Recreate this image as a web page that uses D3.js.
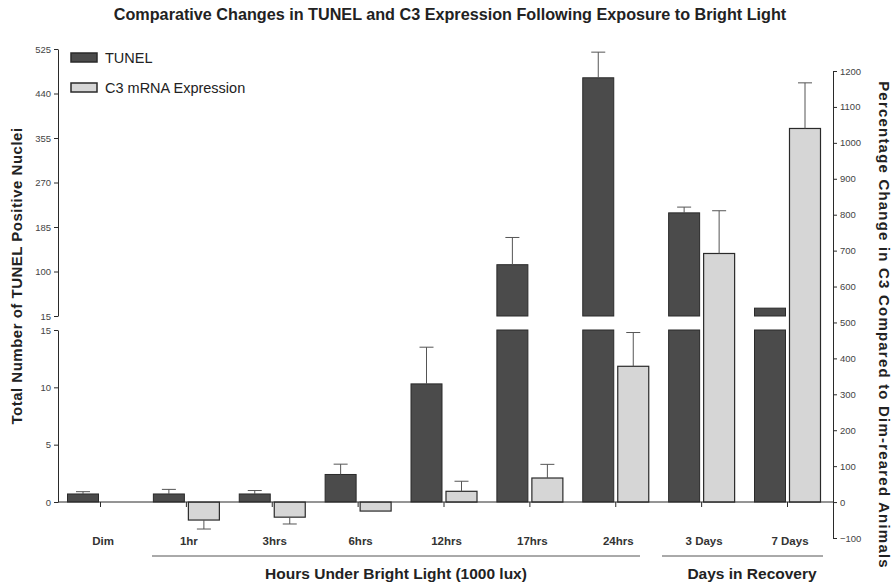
<!DOCTYPE html>
<html>
<head>
<meta charset="utf-8">
<script src="https://cdn.jsdelivr.net/npm/d3@7"></script>
<style>
body{margin:0;background:#fff;font-family:Arial,"Liberation Sans",sans-serif}
</style>
</head>
<body>
<div id="chart"></div>
<script>
const categories=["Dim","1hr","3hrs","6hrs","12hrs","17hrs","24hrs","3 Days","7 Days"]
const tunel=[0.7,0.7,0.7,2.4,10.3,113,470,212,30]
const tunelErr=[0.9,1.1,1.0,3.3,13.5,165,519,223,30]
const c3=[0,-50,-42,-25,30,67,378,692,1040]
const c3Err=[0,-75,-61,-25,58,105,472,811,1167]
const leftTopTicks=[15,100,185,270,355,440,525]
const leftBottomTicks=[0,5,10,15]
const rightTicks=d3.range(-100,1201,100)

const width=894
const height=584

const svg=d3.select("#chart")
.append("svg")
.attr("width",width)
.attr("height",height)

// x scale: group centres
const x=d3.scalePoint()
.domain(categories)
.range([100,787])

// left axis, split in two
const yTop=d3.scaleLinear().domain([15,525]).range([316,49])
const yBot=d3.scaleLinear().domain([0,15]).range([502,330])
// right axis
const yR=d3.scaleLinear().domain([-100,1200]).range([538,71])

const bw=31
const dark="#4b4b4b", light="#d6d6d6", ink="#2a2a2a"

// TUNEL bars (broken above 15)
const tg=svg.append("g")
categories.forEach((c,i)=>{
  const v=tunel[i]
  const x0=x(c)-32.5
  if(v<=15){
    tg.append("rect").attr("x",x0).attr("y",yBot(v)).attr("width",bw).attr("height",yBot(0)-yBot(v))
      .attr("fill",dark).attr("stroke",ink).attr("stroke-width",1)
  }else{
    tg.append("rect").attr("x",x0).attr("y",yBot(15)).attr("width",bw).attr("height",yBot(0)-yBot(15))
      .attr("fill",dark).attr("stroke",ink).attr("stroke-width",1)
    tg.append("rect").attr("x",x0).attr("y",yTop(v)).attr("width",bw).attr("height",yTop(15)-yTop(v))
      .attr("fill",dark).attr("stroke",ink).attr("stroke-width",1)
  }
  const e=tunelErr[i]
  if(e>v){
    const ys=v<=15?yBot:yTop
    const cx=x0+bw/2
    tg.append("line").attr("x1",cx).attr("x2",cx).attr("y1",ys(v)).attr("y2",ys(e)).attr("stroke","#555")
    tg.append("line").attr("x1",cx-7).attr("x2",cx+7).attr("y1",ys(e)).attr("y2",ys(e)).attr("stroke","#555")
  }
})

// C3 bars
const cg=svg.append("g")
categories.forEach((c,i)=>{
  const v=c3[i]
  if(v===0) return
  const x0=x(c)+2.5
  cg.append("rect").attr("x",x0).attr("y",Math.min(yR(v),yR(0))).attr("width",bw)
    .attr("height",Math.abs(yR(v)-yR(0)))
    .attr("fill",light).attr("stroke",ink).attr("stroke-width",1.2)
  const e=c3Err[i]
  if(e!==v){
    const cx=x0+bw/2
    cg.append("line").attr("x1",cx).attr("x2",cx).attr("y1",yR(v)).attr("y2",yR(e)).attr("stroke","#555")
    cg.append("line").attr("x1",cx-7).attr("x2",cx+7).attr("y1",yR(e)).attr("y2",yR(e)).attr("stroke","#555")
  }
})

// X axis
const xAxis=svg.append("g")
.attr("transform",`translate(0,${yBot(0)})`)
.call(d3.axisBottom(x).tickSize(5).tickFormat(""))
xAxis.select(".domain").attr("d",`M58,0H833`).attr("stroke",ink)
xAxis.selectAll(".tick line").attr("stroke",ink)

svg.append("g").selectAll("text")
.data(categories)
.join("text")
.attr("x",d=>x(d)+3)
.attr("y",545)
.attr("text-anchor","middle")
.style("font-size","11.5px")
.style("font-weight","bold")
.attr("fill","#333")
.text(d=>d)

// group brackets
svg.append("line").attr("x1",152).attr("x2",640).attr("y1",556).attr("y2",556).attr("stroke","#555")
svg.append("line").attr("x1",662).attr("x2",823).attr("y1",556).attr("y2",556).attr("stroke","#555")
svg.append("text").attr("x",396).attr("y",579).attr("text-anchor","middle")
.style("font-size","15.5px").style("font-weight","bold").attr("fill","#222")
.text("Hours Under Bright Light (1000 lux)")
svg.append("text").attr("x",752).attr("y",579).attr("text-anchor","middle")
.style("font-size","15.5px").style("font-weight","bold").attr("fill","#222")
.text("Days in Recovery")

// left axes
const styleAxis=g=>{
  g.select(".domain").attr("stroke",ink)
  g.selectAll(".tick line").attr("stroke",ink)
  g.selectAll(".tick text").style("font-size","9.5px").attr("fill","#444")
}
svg.append("g")
.attr("transform","translate(58,0)")
.call(d3.axisLeft(yTop).tickValues(leftTopTicks).tickSize(4).tickSizeOuter(0))
.call(styleAxis)
svg.append("g")
.attr("transform","translate(58,0)")
.call(d3.axisLeft(yBot).tickValues(leftBottomTicks).tickSize(4).tickSizeOuter(0))
.call(styleAxis)

// right axis
svg.append("g")
.attr("transform","translate(833,0)")
.call(d3.axisRight(yR).tickValues(rightTicks).tickFormat(d3.format("d")).tickSize(4).tickSizeOuter(0))
.call(styleAxis)

// legend
const legend=[["TUNEL",dark],["C3 mRNA Expression",light]]
legend.forEach((l,i)=>{
  svg.append("rect").attr("x",71).attr("y",53+i*30).attr("width",26).attr("height",9)
    .attr("fill",l[1]).attr("stroke",ink).attr("stroke-width",1.5)
  svg.append("text").attr("x",105).attr("y",63+i*30)
    .style("font-size","14.5px").attr("fill","#222").text(l[0])
})

// title
svg.append("text").attr("x",450).attr("y",20).attr("text-anchor","middle")
.style("font-size","16.2px").style("font-weight","bold").attr("fill","#222")
.text("Comparative Changes in TUNEL and C3 Expression Following Exposure to Bright Light")

// axis titles
svg.append("text").attr("transform","rotate(-90)")
.attr("x",-276).attr("y",22).attr("text-anchor","middle")
.style("font-size","15px").style("letter-spacing","0.5px").style("font-weight","bold").attr("fill","#222")
.text("Total Number of TUNEL Positive Nuclei")
svg.append("text").attr("transform","rotate(90)")
.attr("x",325).attr("y",-879).attr("text-anchor","middle")
.style("font-size","15px").style("letter-spacing","1.2px").style("font-weight","bold").attr("fill","#222")
.text("Percentage Change in C3 Compared to Dim-reared Animals")
</script>
</body>
</html>
